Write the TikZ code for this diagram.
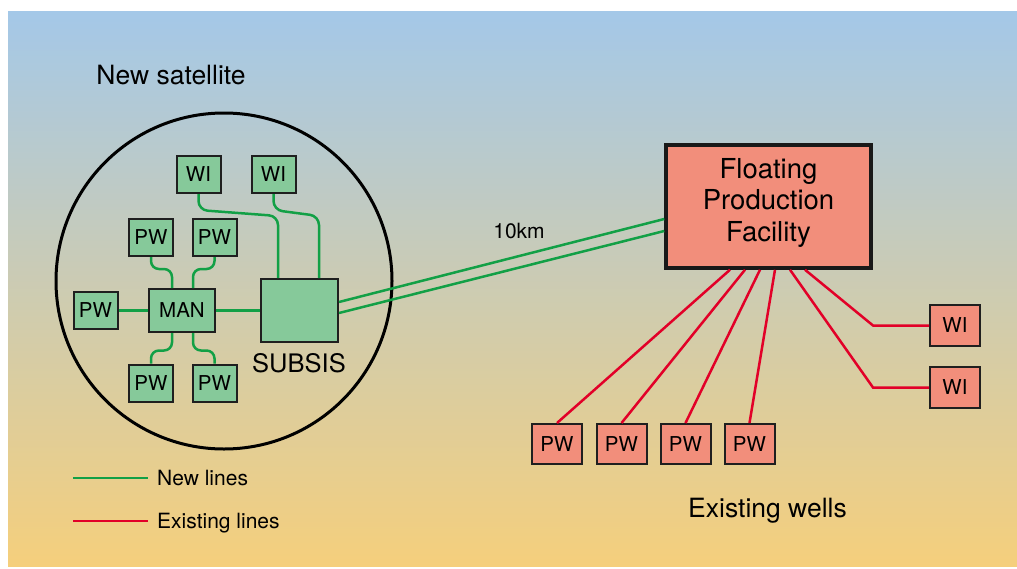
\documentclass[tikz,border=0pt]{standalone}
\usepackage{fontspec}
\setmainfont{TeX Gyre Heros}
\usetikzlibrary{calc}

\definecolor{skytop}{RGB}{164,200,232}
\definecolor{skymid}{RGB}{203,205,196}
\definecolor{skybot}{RGB}{245,207,124}
\definecolor{gfill}{RGB}{134,201,154}
\definecolor{rfill}{RGB}{242,142,123}
\definecolor{lineg}{RGB}{18,160,70}
\definecolor{liner}{RGB}{226,0,40}

\tikzset{
  boxbase/.style={draw=black!88, line width=2pt, inner sep=0pt,
    font=\fontsize{20.5}{24}\selectfont},
  gbox/.style={boxbase, fill=gfill, minimum width=44pt, minimum height=37pt},
  rbox/.style={boxbase, fill=rfill, minimum width=50pt, minimum height=40pt},
  gl/.style={draw=lineg, line width=2.5pt},
  rl/.style={draw=liner, line width=2.5pt},
  bigtext/.style={font=\fontsize{26.5}{31.5}\selectfont, inner sep=0pt},
  midtext/.style={font=\fontsize{21}{25}\selectfont, inner sep=0pt},
}

\begin{document}
\begin{tikzpicture}[x=1pt,y=-1pt]
\useasboundingbox (0,0) rectangle (1017,568);

% sky-to-sand backdrop
\shade[top color=skytop, middle color=skymid, bottom color=skybot]
  (8,11) rectangle (1017,566);

% satellite boundary
\draw[line width=3pt] (224,281) circle[radius=168pt];
\node[bigtext, anchor=base] (sattitle) at (171,84) {New satellite};

% satellite equipment
\node[gbox] (wia) at (198.5,174.5) {WI};
\node[gbox] (wib) at (273.5,174.5) {WI};
\node[gbox] (pwa) at (151,237.5) {PW};
\node[gbox] (pwb) at (214.5,237.5) {PW};
\node[gbox] (pwc) at (95.5,310.5) {PW};
\node[gbox, minimum width=66pt, minimum height=43pt] (man) at (182,310.5) {MAN};
\node[gbox] (pwd) at (151,383) {PW};
\node[gbox] (pwe) at (214.5,383) {PW};
\node[gbox, minimum width=77pt, minimum height=63pt] (sub) at (299.5,310.5) {};
\node[bigtext, font=\fontsize{25.5}{30}\selectfont, anchor=base] (sublbl) at (299,372) {SUBSIS};

% satellite flowlines
\draw[gl] (pwc) -- (man);
\draw[gl] (man) -- (sub);
\draw[gl, rounded corners=8pt] (pwa.south) -- ++(0,12) -| ([xshift=-10pt]man.north);
\draw[gl, rounded corners=8pt] (pwb.south) -- ++(0,12) -| ([xshift=11pt]man.north);
\draw[gl, rounded corners=8pt] (pwd.north) -- ++(0,-13) -| ([xshift=-10pt]man.south);
\draw[gl, rounded corners=8pt] (pwe.north) -- ++(0,-13) -| ([xshift=11pt]man.south);
\draw[gl, rounded corners=9pt] (wia.south) -- ++(0,16) -- (278,216) -- ([xshift=-21.5pt]sub.north);
\draw[gl, rounded corners=9pt] (wib.south) -- ++(0,16) -- (319,216) -- ([xshift=19.5pt]sub.north);

% production facility
\node[draw=black!90, line width=3.5pt, fill=rfill, minimum width=205pt,
      minimum height=123pt] (fpf) at (768.5,206.5) {};
\node[bigtext, font=\fontsize{27.5}{31.5}\selectfont, align=center] (fpftxt)
  at (768.5,202.5) {Floating\\Production\\Facility};

% tie-back to the facility
\draw[gl] ([yshift=8.5pt]sub.east) -- ([yshift=-12.5pt]fpf.west);
\draw[gl] ([yshift=-2.5pt]sub.east) -- ([yshift=-24.5pt]fpf.west);
\node[midtext, anchor=base] (dist) at (519,238) {10km};

% existing wells
\node[rbox] (epa) at (557,444) {PW};
\node[rbox] (epb) at (621.5,444) {PW};
\node[rbox] (epc) at (685.5,444) {PW};
\node[rbox] (epd) at (749.5,444) {PW};
\node[rbox, minimum height=41pt] (ewa) at (955,325.5) {WI};
\node[rbox, minimum height=41pt] (ewb) at (955,387.5) {WI};
\node[bigtext, anchor=base] (wellstitle) at (767.5,517) {Existing wells};

\draw[rl] ([xshift=-38.5pt]fpf.south) -- (epa.north);
\draw[rl] ([xshift=-23.5pt]fpf.south) -- (epb.north);
\draw[rl] ([xshift=-8.5pt]fpf.south) -- (epc.north);
\draw[rl] ([xshift=6.5pt]fpf.south) -- (epd.north);
\draw[rl] ([xshift=21.5pt]fpf.south) -- (873,387.5) -- (ewb.west);
\draw[rl] ([xshift=36.5pt]fpf.south) -- (873,325.5) -- (ewa.west);

% legend
\coordinate (lga1) at (73,478);
\coordinate (lga2) at (148,478);
\coordinate (lgb1) at (73,521);
\coordinate (lgb2) at (148,521);
\draw[gl] (lga1) -- (lga2);
\draw[rl] (lgb1) -- (lgb2);
\node[midtext, anchor=base west] (lgatxt) at (157,485) {New lines};
\node[midtext, anchor=base west] (lgbtxt) at (157,528) {Existing lines};
\end{tikzpicture}
\end{document}
